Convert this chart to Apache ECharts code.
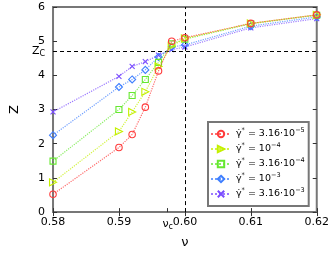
<!DOCTYPE html>
<html><head><meta charset="utf-8">
<script src="https://cdn.jsdelivr.net/npm/echarts@6/dist/echarts.min.js"></script>
<style>html,body{margin:0;padding:0;background:#fff}#c{width:332px;height:254px}</style>
</head><body><div id="c"></div>
<script>
const nu = [0.58, 0.59, 0.592, 0.594, 0.596, 0.598, 0.60, 0.61, 0.62];
const zA = [0.52, 1.89, 2.27, 3.07, 4.13, 5.00, 5.10, 5.52, 5.77]; // 3.16e-5
const zB = [0.87, 2.36, 2.93, 3.52, 4.26, 4.86, 5.08, 5.52, 5.77]; // 1e-4
const zC = [1.49, 3.00, 3.41, 3.88, 4.38, 4.92, 5.06, 5.51, 5.76]; // 3.16e-4
const zD = [2.25, 3.66, 3.88, 4.16, 4.54, 4.83, 4.89, 5.44, 5.71]; // 1e-3
const zE = [2.93, 3.97, 4.26, 4.40, 4.59, 4.75, 4.83, 5.39, 5.66]; // 3.16e-3
const nuC = 0.5974, zCrit = 4.72;
const xTicks = [0.58, 0.59, 0.60, 0.61, 0.62];
const yTicks = [0, 1, 2, 3, 4, 5, 6];
const names = ['A', 'B', 'C', 'D', 'E'];
const legendText = {
  A: '{t|γ̇}{s|*}{t| = 3.16·10}{s|−5}',
  B: '{t|γ̇}{s|*}{t| = 10}{s|−4}',
  C: '{t|γ̇}{s|*}{t| = 3.16·10}{s|−4}',
  D: '{t|γ̇}{s|*}{t| = 10}{s|−3}',
  E: '{t|γ̇}{s|*}{t| = 3.16·10}{s|−3}'
};
const colors = ['#ff3b3b', '#c4f000', '#66e830', '#3f7fff', '#7a4cff'];
const symbols = ['circle', 'triangle', 'rect', 'diamond', 'path://M0,0L10,10M10,0L0,10'];
const rot = [0, -90, 0, 0, 0];
const sizes = [6.5, 7, 6, 7, 5];
const datas = [zA, zB, zC, zD, zE];
const F = 'DejaVu Sans';
const chart = echarts.init(document.getElementById('c'));
const series = names.map((n, i) => ({
  name: n, type: 'line', data: nu.map((x, j) => [x, datas[i][j]]),
  symbol: symbols[i], symbolSize: sizes[i], symbolRotate: rot[i],
  showAllSymbol: true,
  lineStyle: {color: colors[i], type: 'dotted', width: 1.2, opacity: 0.75},
  itemStyle: {color: 'rgba(255,255,255,0)', borderColor: colors[i], borderWidth: 1.1},
  z: 3 + (4 - i),
  markLine: i === 0 ? {
    silent: true, symbol: 'none', label: {show: false},
    lineStyle: {color: '#000', type: [4, 3], width: 1},
    data: [{xAxis: nuC}, {yAxis: zCrit}], animation: false
  } : undefined
}));
chart.setOption({
  animation: false,
  grid: {left: 43, right: 12, top: 7, bottom: 36, show: true, borderColor: '#777', borderWidth: 2},
  xAxis: [{
    type: 'value', min: 0.58, max: 0.62, interval: 0.01,
    name: 'ν', nameLocation: 'middle', nameGap: 22,
    nameTextStyle: {fontFamily: F, fontSize: 13, color: '#000'},
    axisLine: {show: false}, splitLine: {show: false},
    axisTick: {inside: true, length: 4, lineStyle: {color: '#333'}, customValues: xTicks.concat([nuC])},
    axisLabel: {fontFamily: F, fontSize: 11, color: '#000', margin: 5,
      customValues: xTicks.concat([nuC]),
      formatter: v => Math.abs(v - nuC) < 1e-6 ? '{n|ν}{c|c}' : v.toFixed(2),
      rich: {n: {fontFamily: F, fontSize: 11, color: '#000'}, c: {fontFamily: F, fontSize: 8, color: '#000', padding: [6, 0, 0, 0]}}}
  }, {
    type: 'value', position: 'top', min: 0.58, max: 0.62, interval: 0.01,
    axisLine: {show: false}, splitLine: {show: false}, axisLabel: {show: false},
    axisTick: {inside: true, length: 4, lineStyle: {color: '#333'}}
  }],
  yAxis: [{
    type: 'value', min: 0, max: 6, interval: 1,
    name: 'Z', nameLocation: 'middle', nameGap: 25, nameRotate: 90,
    nameTextStyle: {fontFamily: F, fontSize: 13, color: '#000'},
    axisLine: {show: false}, splitLine: {show: false},
    axisTick: {inside: true, length: 4, lineStyle: {color: '#333'}},
    axisLabel: {fontFamily: F, fontSize: 11, color: '#000', margin: 8,
      customValues: yTicks.concat([zCrit]),
      formatter: v => Math.abs(v - zCrit) < 1e-6 ? '{n|Z}{c|C}' : String(v),
      rich: {n: {fontFamily: F, fontSize: 11, color: '#000'}, c: {fontFamily: F, fontSize: 8, color: '#000', padding: [6, 0, 0, 0]}}}
  }, {
    type: 'value', position: 'right', min: 0, max: 6, interval: 1,
    axisLine: {show: false}, splitLine: {show: false}, axisLabel: {show: false},
    axisTick: {inside: true, length: 4, lineStyle: {color: '#333'}}
  }],
  legend: {
    orient: 'vertical', left: 208, top: 122,
    backgroundColor: '#fff', borderColor: '#777', borderWidth: 2,
    padding: [5, 4, 5, 2], itemGap: 1, itemWidth: 20, itemHeight: 8,
    data: names,
    formatter: n => legendText[n],
    textStyle: {fontFamily: F, fontSize: 10, color: '#000', lineHeight: 14,
      rich: {t: {fontFamily: F, fontSize: 9.5, color: '#000'}, s: {fontFamily: F, fontSize: 6.5, color: '#000', padding: [0, 0, 7, 0]}}}
  },
  series: series
});
</script></body></html>
